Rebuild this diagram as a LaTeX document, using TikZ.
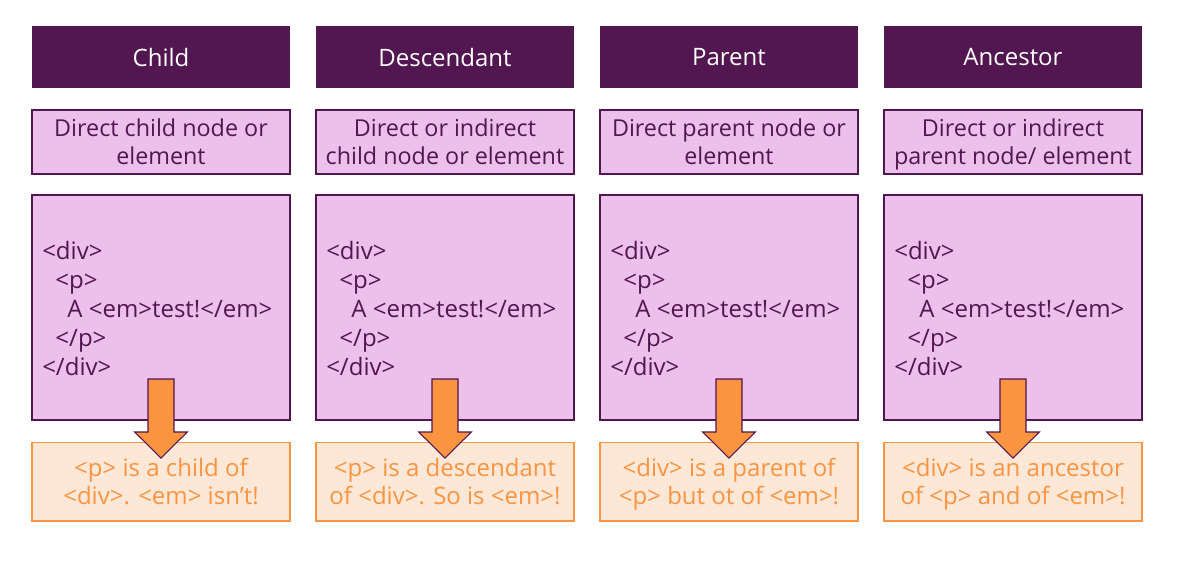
\documentclass[tikz,border=0pt]{standalone}
\usepackage{fontspec}
\setmainfont{Open Sans}
\definecolor{dpurple}{HTML}{521650}
\definecolor{lpink}{HTML}{ECC0EA}
\definecolor{orfill}{HTML}{FDE8D8}
\definecolor{orline}{HTML}{FB9440}
\begin{document}
\begin{tikzpicture}[x=0.75pt,y=-0.75pt,
  hdr/.style={draw=none,fill=dpurple,text=white,minimum width=193.5pt,minimum height=47pt,inner sep=0pt,font=\fontsize{18}{19}\selectfont},
  desc/.style={draw=dpurple,line width=1pt,fill=lpink,minimum width=193.5pt,minimum height=48pt,inner sep=0pt},
  desctxt/.style={text=dpurple,inner sep=0pt,align=center,font=\fontsize{17.5}{21}\selectfont},
  codebox/.style={draw=dpurple,line width=1pt,fill=lpink,minimum width=193.5pt,minimum height=168.75pt,inner sep=0pt},
  codetxt/.style={text=dpurple,align=left,inner sep=0pt,anchor=north west,font=\fontsize{18}{21.75}\selectfont},
  res/.style={draw=orline,line width=1pt,fill=orfill,minimum width=193.5pt,minimum height=59pt,inner sep=0pt},
  restxt/.style={text=orline,inner sep=0pt,align=center,font=\fontsize{18}{21}\selectfont},
  bigarrow/.style={draw=dpurple,line width=0.8pt,fill=orline,line join=miter}]
\useasboundingbox (0,0) rectangle (1182,571);
\foreach \i/\h/\d/\r in {0/Child/{\strut Direct child node or\\\strut element}/{\strut <p> is a child of\\\strut <div>. <em> isn’t!},
  1/Descendant/{\strut Direct or indirect\\\strut child node or element}/{\strut <p> is a descendant\\\strut of <div>. So is <em>!},
  2/Parent/{\strut Direct parent node or\\\strut element}/{\strut <div> is a parent of\\\strut <p> but ot of <em>!},
  3/Ancestor/{\strut Direct or indirect\\\strut parent node/ element}/{\strut <div> is an ancestor\\\strut of <p> and of <em>!}}{
  \pgfmathsetmacro{\cx}{161+284*\i}
  \node[hdr] (h\i) at (\cx,57) {\h};
  \node[desc] (d\i) at (\cx,142) {};
  \node[desctxt] (dt\i) at ([yshift=-2.25pt]d\i.center) {\d};
  \node[codebox] (c\i) at (\cx,307.5) {};
  \node[codetxt] (t\i) at ([xshift=8pt,yshift=-35pt]c\i.north west) {<div>\\\hspace*{0.55em}<p>\\\hspace*{1.05em}A <em>test!</em>\\\hspace*{0.55em}</p>\\</div>};
  \node[res] (r\i) at (\cx,481.5) {};
  \coordinate (a\i) at (\cx,379);
  \draw[bigarrow] ([xshift=-9.75pt]a\i) -- ++(0,-39.75pt) -- ++(-10pt,0) -- ([yshift=-59.25pt]a\i) -- ++(19.75pt,19.5pt) -- ++(-10pt,0) -- ++(0,39.75pt) -- cycle;
  \node[restxt] (rt\i) at ([yshift=-2.25pt]r\i.center) {\r};
}
\end{tikzpicture}
\end{document}
